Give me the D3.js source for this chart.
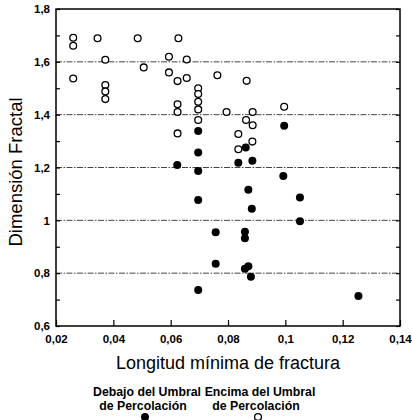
<!DOCTYPE html>
<html><head><meta charset="utf-8">
<script src="https://cdn.jsdelivr.net/npm/d3@7/dist/d3.min.js"></script>
<style>body{margin:0;background:#fff}svg{display:block}</style>
</head><body>
<svg id="c" width="412" height="420"></svg>
<script>
const xTicks = [0.02,0.04,0.06,0.08,0.10,0.12,0.14];
const yTicks = [0.6,0.8,1.0,1.2,1.4,1.6,1.8];
const yMinor = [0.7,0.9,1.1,1.3,1.5,1.7];
const gridLevels = [0.8,1.0,1.2,1.4,1.6];
// Encima del Umbral (open circles)
const aboveX = [0.026,0.026,0.026,0.0345,0.0372,0.0372,0.0372,0.0372,0.0485,0.0506,0.0594,0.0627,0.0656,0.0594,0.0624,0.0656,0.0624,0.0624,0.0624,0.0696,0.0696,0.0696,0.0696,0.0696,0.0763,0.0865,0.0795,0.0886,0.0863,0.0886,0.0836,0.0885,0.0836,0.0996];
const aboveY = [1.691,1.661,1.537,1.689,1.608,1.512,1.488,1.459,1.689,1.579,1.619,1.689,1.609,1.560,1.527,1.539,1.439,1.410,1.329,1.500,1.478,1.449,1.420,1.380,1.549,1.528,1.410,1.410,1.380,1.360,1.327,1.298,1.269,1.430];
// Debajo del Umbral (filled)
const belowX = [0.0696,0.0696,0.0862,0.0623,0.0696,0.0836,0.0885,0.0996,0.0696,0.0871,0.0883,0.0993,0.1051,0.1051,0.0757,0.0859,0.0859,0.0757,0.0859,0.0871,0.0880,0.1255,0.0696];
const belowY = [1.338,1.257,1.276,1.209,1.187,1.218,1.226,1.358,1.077,1.116,1.044,1.168,1.086,0.997,0.955,0.957,0.932,0.836,0.817,0.826,0.786,0.714,0.736];
const fmt = v => (Math.round(v*100)/100).toString().replace('.', ',');

const svg = d3.select('#c');
const L=56,R=400,T=9,B=326;
const x = d3.scaleLinear().domain([0.02,0.14]).range([L,R]);
const y = d3.scaleLinear().domain([0.6,1.8]).range([B,T]);
const font = "'Liberation Sans', Arial, sans-serif";

// grid
svg.append('g').selectAll('line').data(gridLevels).join('line')
  .attr('x1',L).attr('x2',R).attr('y1',d=>y(d)).attr('y2',d=>y(d))
  .attr('stroke','#444').attr('stroke-width',1).attr('stroke-dasharray','6,1.5,1.5,1.5');

// axes
const ax = svg.append('g').attr('transform',`translate(0,${B})`)
  .call(d3.axisBottom(x).tickValues(xTicks).tickSize(-6).tickPadding(9).tickFormat(fmt));
const ay = svg.append('g').attr('transform',`translate(${L},0)`)
  .call(d3.axisLeft(y).tickValues(yTicks).tickSize(-4).tickPadding(6).tickFormat(fmt));
svg.append('g').attr('transform',`translate(${L},0)`)
  .call(d3.axisLeft(y).tickValues(yMinor).tickSize(-4).tickFormat(''))
  .call(g=>g.select('.domain').remove());
svg.append('g').attr('transform',`translate(${R},0)`)
  .call(d3.axisRight(y).tickValues(yTicks.concat(yMinor)).tickSize(-4).tickFormat(''))
  .call(g=>g.select('.domain').remove());
[ax,ay].forEach(g=>{
  g.select('.domain').remove();
  g.selectAll('text').attr('font-family',font).attr('font-weight','bold').attr('font-size',11.5).attr('fill','#000');
});
svg.selectAll('.tick line').attr('stroke','#000').attr('stroke-width',1.2);
// frame
svg.append('rect').attr('x',L).attr('y',T).attr('width',R-L).attr('height',B-T)
  .attr('fill','none').attr('stroke','#000').attr('stroke-width',1.5);

// points
const above = aboveX.map((v,i)=>({x:v,y:aboveY[i]}));
const below = belowX.map((v,i)=>({x:v,y:belowY[i]}));
svg.append('g').selectAll('circle').data(above).join('circle')
  .attr('cx',d=>x(d.x)).attr('cy',d=>y(d.y)).attr('r',3.4)
  .attr('fill','#fff').attr('stroke','#000').attr('stroke-width',1.3);
svg.append('g').selectAll('circle').data(below).join('circle')
  .attr('cx',d=>x(d.x)).attr('cy',d=>y(d.y)).attr('r',4)
  .attr('fill','#000');

// titles
svg.append('text').attr('x',228).attr('y',369).attr('text-anchor','middle')
  .attr('font-family',font).attr('font-size',18).text('Longitud mínima de fractura');
svg.append('text').attr('transform',`translate(22,172) rotate(-90)`).attr('text-anchor','middle')
  .attr('font-family',font).attr('font-size',18.5).text('Dimensión Fractal');

// legend
const leg = [{t1:'Debajo del Umbral',t2:'de Percolación',cx:147,filled:true},
             {t1:'Encima del Umbral',t2:'de Percolación',cx:260,filled:false}];
leg.forEach(d=>{
  svg.append('text').attr('x',d.cx).attr('y',396).attr('text-anchor','middle')
    .attr('font-family',font).attr('font-weight','bold').attr('font-size',12.3).text(d.t1);
  svg.append('text').attr('x',d.cx-4).attr('y',410).attr('text-anchor','middle')
    .attr('font-family',font).attr('font-weight','bold').attr('font-size',12.3).text(d.t2);
  const c = svg.append('circle').attr('cx',d.cx-2).attr('cy',417).attr('r',d.filled?4:3.4);
  if(d.filled) c.attr('fill','#000'); else c.attr('fill','#fff').attr('stroke','#000').attr('stroke-width',1.3);
});
</script>
</body></html>
